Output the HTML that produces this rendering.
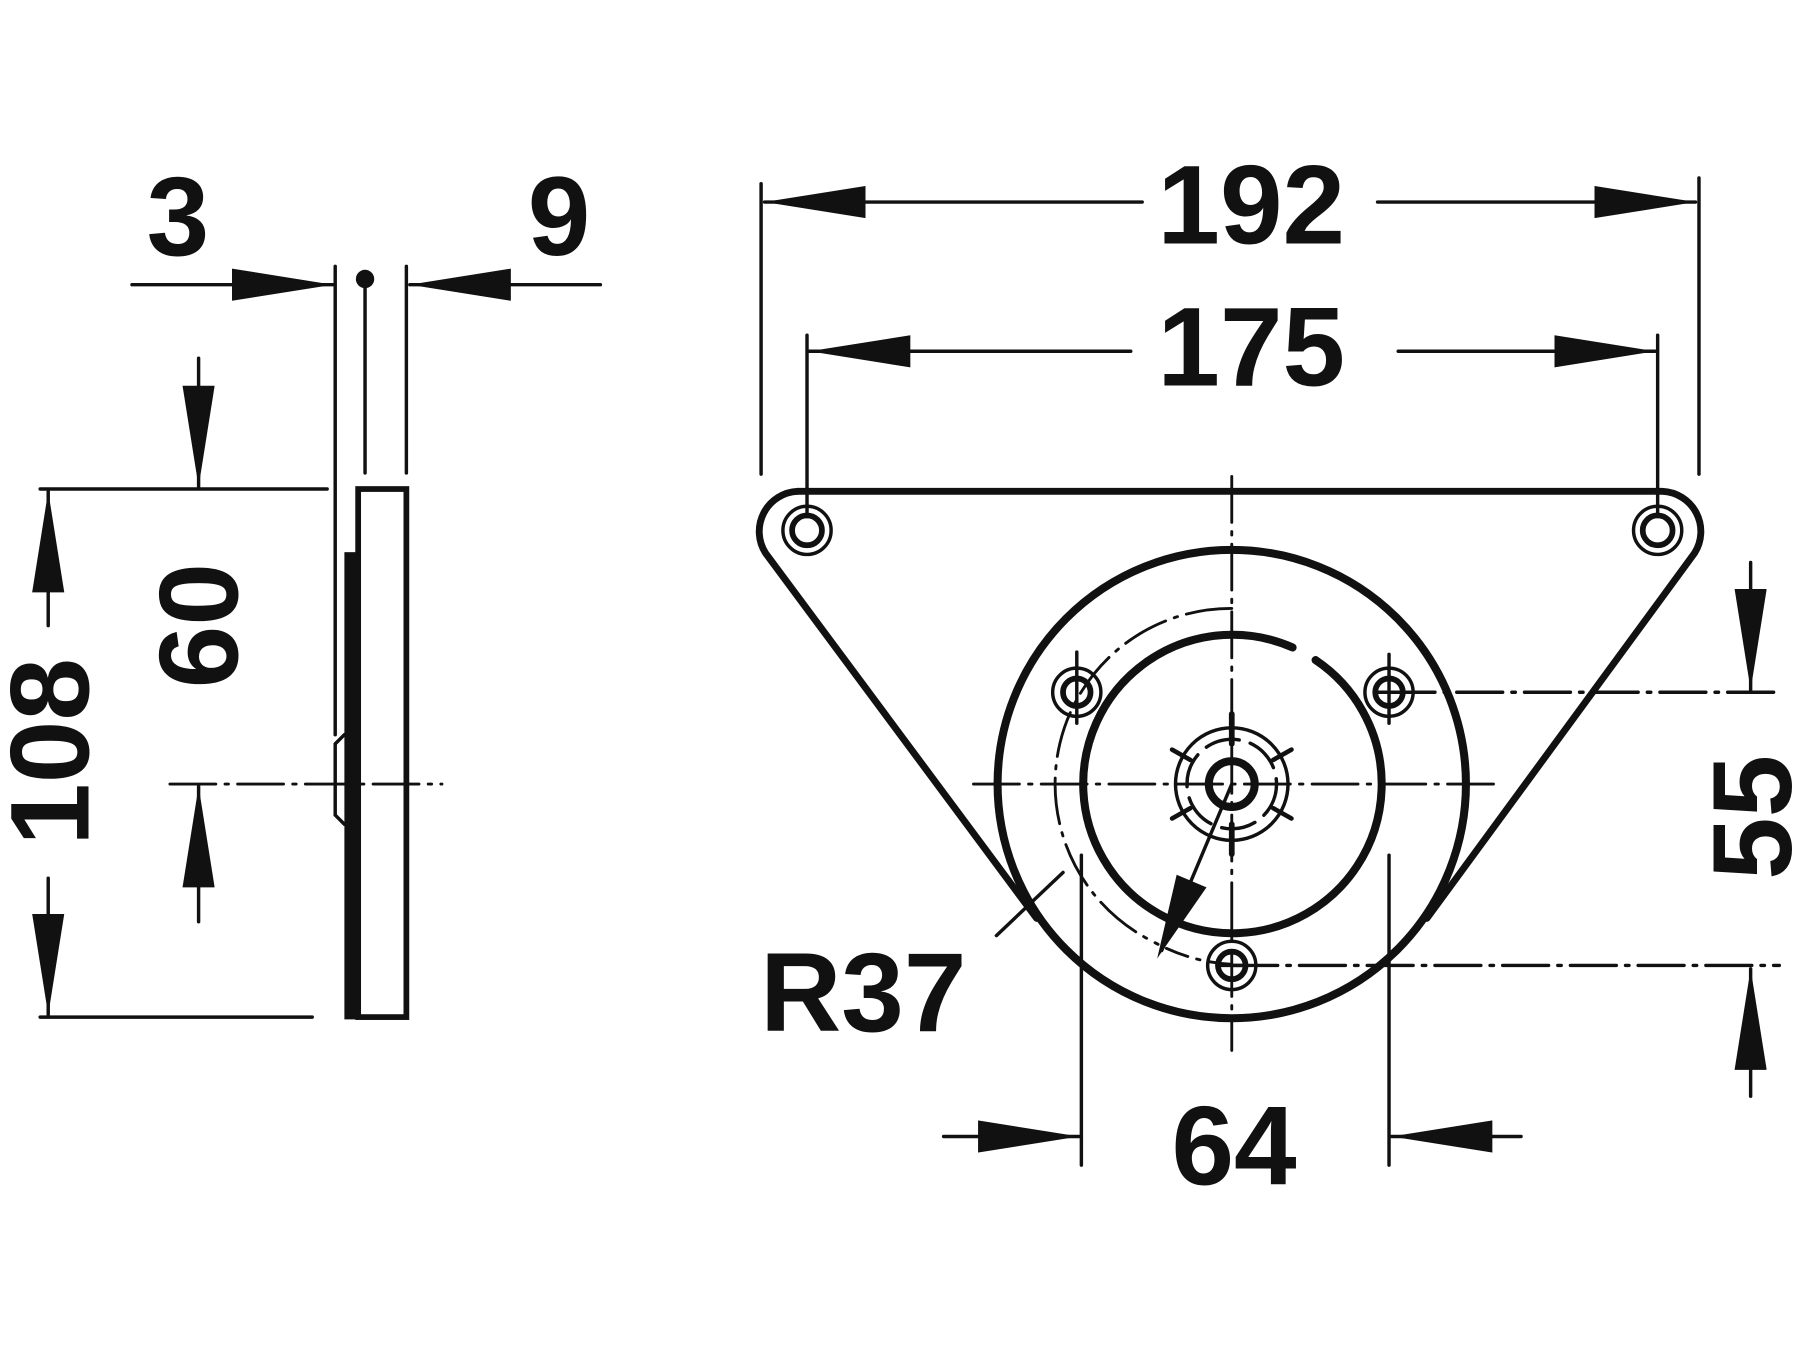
<!DOCTYPE html>
<html><head><style>html,body{margin:0;padding:0;background:#fff}svg{display:block}</style></head>
<body>
<svg width="1800" height="1350" viewBox="0 0 1568 1176" xmlns="http://www.w3.org/2000/svg">
<defs>
<marker id="a" viewBox="0 0 88 28" refX="88" refY="14" markerWidth="88" markerHeight="28" markerUnits="userSpaceOnUse" orient="auto"><path d="M0 0 L88 14 L0 28Z" fill="#111"/></marker>
</defs>
<g fill="none" stroke="#111" stroke-linecap="round" font-family="Liberation Sans, Arial, sans-serif" font-weight="bold">
<!-- left view -->
<line x1="292" y1="232" x2="292" y2="640" stroke-width="3"/>
<line x1="318" y1="250" x2="318" y2="412" stroke-width="3"/>
<circle cx="318" cy="243" r="8" fill="#111" stroke="none"/>
<line x1="354" y1="232" x2="354" y2="412" stroke-width="3"/>
<line x1="115" y1="248" x2="290" y2="248" stroke-width="3" marker-end="url(#a)"/>
<line x1="523" y1="248" x2="357" y2="248" stroke-width="3" marker-end="url(#a)"/>
<rect x="312" y="426" width="42" height="460" stroke-width="5"/>
<rect x="300" y="481" width="12" height="407" fill="#111" stroke="none"/>
<path d="M300 640 L292 648 L292 710 L300 718" stroke-width="3"/>
<line x1="148" y1="683" x2="385" y2="683" stroke-width="2.5" stroke-dasharray="40 8 3 8"/>
<line x1="35" y1="426" x2="285" y2="426" stroke-width="3"/>
<line x1="35" y1="886" x2="272" y2="886" stroke-width="3"/>
<line x1="42" y1="545" x2="42" y2="428" stroke-width="3" marker-end="url(#a)"/>
<line x1="42" y1="765" x2="42" y2="884" stroke-width="3" marker-end="url(#a)"/>
<line x1="173" y1="312" x2="173" y2="424" stroke-width="3" marker-end="url(#a)"/>
<line x1="173" y1="803" x2="173" y2="685" stroke-width="3" marker-end="url(#a)"/>
<g fill="#111" stroke="none" font-size="98" text-anchor="middle">
<text x="155" y="222">3</text>
<text x="487" y="222">9</text>
<text transform="translate(77,655) rotate(-90)">108</text>
<text transform="translate(207,545) rotate(-90)">60</text>
<text x="1090" y="212">192</text>
<text x="1090" y="336">175</text>
<text x="752" y="898">R37</text>
<text x="1075" y="1032">64</text>
<text transform="translate(1560,712) rotate(-90)">55</text>
</g>
<!-- right view dims -->
<line x1="663" y1="160" x2="663" y2="413" stroke-width="3"/>
<line x1="1480" y1="155" x2="1480" y2="413" stroke-width="3"/>
<line x1="995" y1="176" x2="666" y2="176" stroke-width="3" marker-end="url(#a)"/>
<line x1="1200" y1="176" x2="1477" y2="176" stroke-width="3" marker-end="url(#a)"/>
<line x1="703" y1="292" x2="703" y2="450" stroke-width="3"/>
<line x1="1444" y1="292" x2="1444" y2="450" stroke-width="3"/>
<line x1="985" y1="306" x2="705" y2="306" stroke-width="3" marker-end="url(#a)"/>
<line x1="1218" y1="306" x2="1442" y2="306" stroke-width="3" marker-end="url(#a)"/>
<!-- plate -->
<path d="M695 428 L1448 428 A35 35 0 0 1 1476 482 L1243 800" stroke-width="6"/>
<path d="M695 428 A35 35 0 0 0 667 482 L903 800" stroke-width="6"/>
<circle cx="1073" cy="683" r="204" stroke-width="7"/>
<path d="M1126 564 A130 130 0 1 0 1146 575" stroke-width="7"/>
<path d="M1073 530 A153 153 0 0 0 1004 820" stroke-width="2.5" stroke-dasharray="40 8 3 8"/>
<path d="M1073 840 A157 157 0 0 1 1004 820" stroke-width="2.5" stroke-dasharray="20 8 3 8"/>
<line x1="1073" y1="415" x2="1073" y2="915" stroke-width="2.5" stroke-dasharray="40 8 3 8"/>
<line x1="848" y1="683" x2="1305" y2="683" stroke-width="2.5" stroke-dasharray="40 8 3 8"/>
<!-- holes -->
<g stroke-width="3">
<circle cx="703" cy="462" r="21"/><circle cx="703" cy="462" r="13" stroke-width="5"/>
<circle cx="1444" cy="462" r="21"/><circle cx="1444" cy="462" r="13" stroke-width="5"/>
<circle cx="938" cy="603" r="21"/><circle cx="938" cy="603" r="12" stroke-width="5"/>
<circle cx="1210" cy="603" r="21"/><circle cx="1210" cy="603" r="12" stroke-width="5"/>
<circle cx="1073" cy="841" r="21"/><circle cx="1073" cy="841" r="12" stroke-width="5"/>
<line x1="938" y1="568" x2="938" y2="630"/><line x1="1210" y1="570" x2="1210" y2="630"/>
<line x1="1210" y1="603" x2="1553" y2="603" stroke-dasharray="40 8 3 8"/>
<line x1="1073" y1="841" x2="1550" y2="841" stroke-dasharray="40 8 3 8"/>
<line x1="1061" y1="841" x2="1085" y2="841"/><line x1="1198" y1="603" x2="1222" y2="603"/>
</g>
<!-- center -->
<circle cx="1073" cy="683" r="20" stroke-width="7"/>
<circle cx="1073" cy="683" r="39" stroke-width="3" stroke-dasharray="30 10"/>
<circle cx="1073" cy="683" r="49" stroke-width="3"/>
<g stroke-width="5">
<line x1="1073" y1="622" x2="1073" y2="648"/><line x1="1073" y1="718" x2="1073" y2="744"/>
</g>
<g stroke-width="4">
<line x1="1037" y1="662" x2="1021" y2="653"/><line x1="1109" y1="662" x2="1125" y2="653"/>
<line x1="1037" y1="704" x2="1021" y2="713"/><line x1="1109" y1="704" x2="1125" y2="713"/>
</g>
<line x1="1073" y1="683" x2="1012" y2="828" stroke-width="3"/>
<path d="M1025 762 L1051 773 L1008 835Z" fill="#111" stroke="none"/>
<line x1="868" y1="815" x2="926" y2="760" stroke-width="3"/>
<!-- 64 -->
<line x1="942" y1="745" x2="942" y2="1015" stroke-width="3"/>
<line x1="1210" y1="745" x2="1210" y2="1015" stroke-width="3"/>
<line x1="822" y1="990" x2="940" y2="990" stroke-width="3" marker-end="url(#a)"/>
<line x1="1325" y1="990" x2="1212" y2="990" stroke-width="3" marker-end="url(#a)"/>
<!-- 55 -->
<line x1="1525" y1="490" x2="1525" y2="601" stroke-width="3" marker-end="url(#a)"/>
<line x1="1525" y1="955" x2="1525" y2="844" stroke-width="3" marker-end="url(#a)"/>
</g>
</svg>
</body></html>
